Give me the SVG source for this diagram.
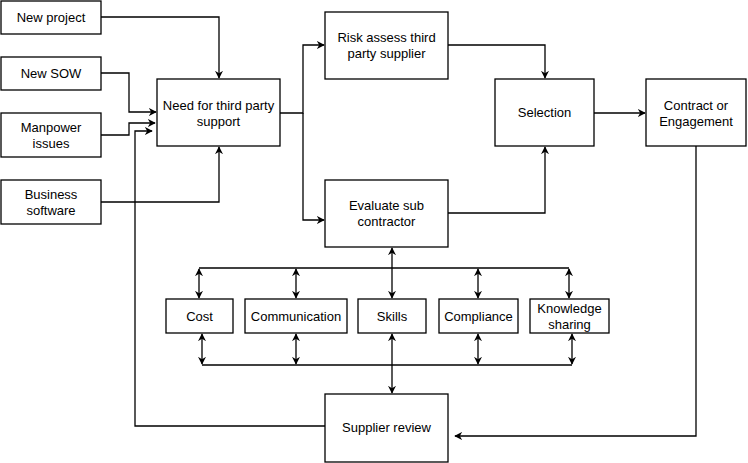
<svg xmlns="http://www.w3.org/2000/svg" width="748" height="463" viewBox="0 0 748 463">
<defs>
<style>
.n rect{fill:#fff;stroke:#000;stroke-width:1.3}
.n text{font-family:"Liberation Sans",Arial,sans-serif;font-size:13px;fill:#000;text-anchor:middle}
.c path{fill:none;stroke:#000;stroke-width:1.3}
</style>
<marker id="a" viewBox="0 0 10 10" refX="9" refY="5" markerWidth="8" markerHeight="8" markerUnits="userSpaceOnUse" orient="auto-start-reverse">
<path d="M0,0 L10,5 L0,10 L3,5 Z" fill="#000"/>
</marker>
</defs>
<rect width="748" height="463" fill="#fff"/>
<g class="c">
<path d="M101,17 H219 V78" marker-end="url(#a)"/>
<path d="M101,73 H129 V112 H156" marker-end="url(#a)"/>
<path d="M101,135 H129 V123 H155" marker-end="url(#a)"/>
<path d="M101,202 H219 V147" marker-end="url(#a)"/>
<path d="M325,426 H135 V131 H152" marker-end="url(#a)"/>
<path d="M280,113 H303 V45 H324" marker-end="url(#a)"/>
<path d="M303,113 V220 H324" marker-end="url(#a)"/>
<path d="M448,45 H545 V78" marker-end="url(#a)"/>
<path d="M448,213 H545 V147" marker-end="url(#a)"/>
<path d="M594,113 H645" marker-end="url(#a)"/>
<path d="M696,146 V436 H455" marker-end="url(#a)"/>
<path d="M199,268 H569"/>
<path d="M202,365 H572"/>
<path d="M199,269 V298" marker-start="url(#a)" marker-end="url(#a)"/>
<path d="M296,269 V298" marker-start="url(#a)" marker-end="url(#a)"/>
<path d="M478,269 V298" marker-start="url(#a)" marker-end="url(#a)"/>
<path d="M569,269 V298" marker-start="url(#a)" marker-end="url(#a)"/>
<path d="M202,334 V364" marker-start="url(#a)" marker-end="url(#a)"/>
<path d="M296,334 V364" marker-start="url(#a)" marker-end="url(#a)"/>
<path d="M478,334 V364" marker-start="url(#a)" marker-end="url(#a)"/>
<path d="M572,334 V364" marker-start="url(#a)" marker-end="url(#a)"/>
<path d="M392,248 V298" marker-start="url(#a)" marker-end="url(#a)"/>
<path d="M392,334 V393" marker-start="url(#a)" marker-end="url(#a)"/>
</g>
<g id="new-project" class="n"><rect x="1" y="1" width="100" height="33"/><text x="51" y="22">New project</text></g>
<g id="new-sow" class="n"><rect x="1" y="57" width="100" height="33"/><text x="51" y="78">New SOW</text></g>
<g id="manpower" class="n"><rect x="1" y="113" width="100" height="44"/><text x="51" y="132">Manpower</text><text x="51" y="148">issues</text></g>
<g id="business-software" class="n"><rect x="1" y="180" width="100" height="44"/><text x="51" y="199">Business</text><text x="51" y="215">software</text></g>
<g id="need" class="n"><rect x="157" y="79" width="123" height="67"/><text x="218.5" y="110">Need for third party</text><text x="218.5" y="126">support</text></g>
<g id="risk" class="n"><rect x="325" y="12" width="123" height="67"/><text x="386.5" y="42">Risk assess third</text><text x="386.5" y="58">party supplier</text></g>
<g id="evaluate" class="n"><rect x="325" y="180" width="123" height="67"/><text x="386.5" y="210">Evaluate sub</text><text x="386.5" y="226">contractor</text></g>
<g id="selection" class="n"><rect x="495" y="79" width="99" height="67"/><text x="544.5" y="117">Selection</text></g>
<g id="contract" class="n"><rect x="646" y="79" width="100" height="67"/><text x="696" y="110">Contract or</text><text x="696" y="126">Engagement</text></g>
<g id="cost" class="n"><rect x="166" y="299" width="67" height="34"/><text x="199.5" y="321">Cost</text></g>
<g id="communication" class="n"><rect x="245" y="299" width="102" height="34"/><text x="296" y="321">Communication</text></g>
<g id="skills" class="n"><rect x="358" y="299" width="68" height="34"/><text x="392" y="321">Skills</text></g>
<g id="compliance" class="n"><rect x="439" y="299" width="79" height="34"/><text x="478.5" y="321">Compliance</text></g>
<g id="knowledge" class="n"><rect x="530" y="299" width="79" height="34"/><text x="569.5" y="313">Knowledge</text><text x="569.5" y="329">sharing</text></g>
<g id="supplier-review" class="n"><rect x="325" y="394" width="123" height="68"/><text x="386.5" y="432">Supplier review</text></g>
</svg>
